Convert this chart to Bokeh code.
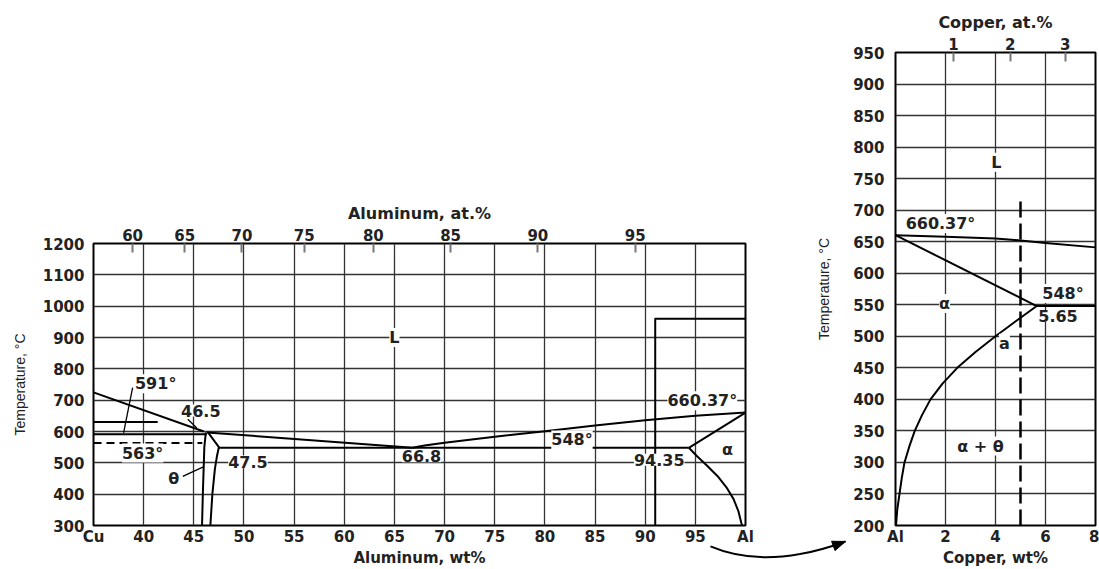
from bokeh.plotting import figure
from bokeh.models import (Range1d, FixedTicker, LinearAxis, LabelSet, ColumnDataSource)
from bokeh.layouts import row, column
from bokeh.embed import file_html
from bokeh.resources import INLINE
from bokeh.core.properties import value

# ---------------- Left panel data (Cu-Al, wt% Al) ----------------
wt_ticks = [35, 40, 45, 50, 55, 60, 65, 70, 75, 80, 85, 90, 95, 100]
wt_tick_labels = ["Cu", "40", "45", "50", "55", "60", "65", "70", "75", "80", "85", "90", "95", "Al"]
at_tick_pos = [38.9, 44.1, 49.8, 56.0, 62.9, 70.6, 79.3, 89.0]
at_tick_labels = ["60", "65", "70", "75", "80", "85", "90", "95"]
temp_ticks_left = [300, 400, 500, 600, 700, 800, 900, 1000, 1100, 1200]

liq_cu_x = [35, 46.0]
liq_cu_t = [725, 600]
upper_x = [35, 41.4]
upper_t = [630, 630]
line591_x = [35, 46.3]
line591_t = [591, 591]
dash563_x = [35, 45.85]
dash563_t = [563, 563]
theta_left_x = [46.2, 46.05, 46.0, 45.9, 45.82]
theta_left_t = [597, 550, 500, 400, 300]
theta_right_x = [46.4, 47.5, 47.3, 47.1, 46.85, 46.65]
theta_right_t = [598, 550, 520, 480, 400, 300]
liq_mid_x = [46.3, 66.8]
liq_mid_t = [597, 548]
liq_al_x = [66.8, 68, 70, 75, 80, 85, 90, 95, 100]
liq_al_t = [548, 555, 564, 583, 601, 619, 636, 650, 660.37]
eut_x = [47.5, 94.35]
eut_t = [548, 548]
sol_al_x = [94.35, 100]
sol_al_t = [548, 660.37]
solvus_al_x = [94.35, 95.2, 96.2, 97.2, 98.1, 98.8, 99.3, 99.65]
solvus_al_t = [548, 520, 490, 458, 422, 385, 345, 300]
box_x = [91, 91, 100]
box_t = [300, 960, 960]

left_lab_text = ["L", "591°", "46.5", "563°", "47.5", "θ", "66.8", "548°", "94.35", "660.37°", "α"]
left_lab_x = [65, 41.2, 45.7, 39.9, 50.4, 43.0, 67.7, 82.7, 91.4, 95.7, 98.2]
left_lab_t = [900, 752, 667, 531, 504, 451, 521, 573, 510, 698, 544]

lead591_x = [38.9, 38.0]
lead591_t = [740, 596]
lead465_x = [44.4, 45.3]
lead465_t = [639, 611]
leadth_x = [43.9, 45.95]
leadth_t = [457, 487]

# ---------------- Right panel data (Al-rich, wt% Cu) ----------------
cu_ticks = [0, 2, 4, 6, 8]
cu_tick_labels = ["Al", "2", "4", "6", "8"]
cu_at_pos = [2.32, 4.59, 6.79]
cu_at_labels = ["1", "2", "3"]
temp_ticks_right = [200, 250, 300, 350, 400, 450, 500, 550, 600, 650, 700, 750, 800, 850, 900, 950]

r_liq_x = [0, 2, 4, 5, 6, 8]
r_liq_t = [660.37, 658, 655, 652, 648, 641]
r_sol_x = [0, 5.65]
r_sol_t = [660.37, 548]
r_eut_x = [5.65, 8]
r_eut_t = [548, 548]
r_solvus_x = [5.65, 4.85, 4.0, 3.2, 2.47, 1.88, 1.4, 1.06, 0.77, 0.55, 0.36, 0.25, 0.16, 0.07, 0.02]
r_solvus_t = [548, 525, 500, 475, 450, 425, 400, 375, 350, 325, 300, 275, 250, 225, 200]
r_dash_x = [5, 5]
r_dash_t = [200, 715]

right_lab_text = ["L", "660.37°", "548°", "5.65", "α", "a", "α + θ"]
right_lab_x = [4.03, 1.8, 6.7, 6.5, 1.96, 4.36, 3.4]
right_lab_t = [776, 679, 568, 532, 552, 489, 326]

# connecting arrow (page pixels): start, control, end
arrow_px = [(710, 547), (766, 571), (845, 542)]

FONT = "DejaVu Sans"
TXT = "#222222"
GRID = "#333333"


def style_axis(ax, size="15px", title="16px"):
    ax.axis_line_color = None
    ax.major_label_text_font = FONT
    ax.major_label_text_font_size = size
    ax.major_label_text_font_style = "bold"
    ax.major_label_text_color = TXT
    ax.axis_label_text_font = FONT
    ax.axis_label_text_font_size = title
    ax.axis_label_text_font_style = "bold"
    ax.axis_label_text_color = TXT
    ax.major_tick_out = 0
    ax.major_tick_in = 0
    ax.minor_tick_out = 0
    ax.minor_tick_in = 0


def ylabel_style(ax, standoff):
    ax.axis_label_text_font = "Liberation Sans"
    ax.axis_label_text_font_style = "normal"
    ax.axis_label_text_font_size = "14px"
    ax.axis_label_standoff = standoff


def labels(p, texts, xs, ts):
    src = ColumnDataSource(dict(x=xs, y=ts, text=texts))
    ls = LabelSet(x="x", y="y", text="text", source=src, text_align="center",
                  text_baseline="middle", text_font=value(FONT), text_font_size=value("16px"),
                  text_font_style=value("bold"), text_color=value(TXT),
                  background_fill_color=value("white"))
    p.add_layout(ls)


# ================= Left figure =================
L_W, H = 800, 569
p1 = figure(width=L_W, height=H, output_backend="svg", toolbar_location=None,
            x_range=Range1d(35, 100), y_range=Range1d(300, 1200),
            min_border_left=93, min_border_right=55, min_border_top=243,
            min_border_bottom=43, x_axis_label="Aluminum, wt%",
            y_axis_label="Temperature, °C")
p1.outline_line_color = "black"
p1.outline_line_width = 2
p1.background_fill_color = "white"
p1.border_fill_color = "white"

p1.xaxis.ticker = FixedTicker(ticks=wt_ticks)
p1.xaxis.major_label_overrides = {t: l for t, l in zip(wt_ticks, wt_tick_labels)}
p1.yaxis.ticker = FixedTicker(ticks=temp_ticks_left)
for ax in p1.yaxis:
    style_axis(ax)
for ax in p1.xaxis:
    style_axis(ax, title="15px")
p1.xaxis.major_label_standoff = 2
p1.xaxis.axis_label_standoff = 0
p1.yaxis.major_label_standoff = 9
ylabel_style(p1.yaxis[0], 12)

top1 = LinearAxis(ticker=FixedTicker(ticks=at_tick_pos),
                  major_label_overrides={t: l for t, l in zip(at_tick_pos, at_tick_labels)},
                  axis_label="Aluminum, at.%")
style_axis(top1)
top1.major_tick_in = 9
top1.major_tick_line_color = "#777777"
top1.major_tick_line_width = 2
top1.major_label_standoff = 3
top1.axis_label_standoff = 3
p1.add_layout(top1, "above")

for g in p1.xgrid + p1.ygrid:
    g.grid_line_color = GRID
    g.grid_line_width = 1.3
    g.grid_line_alpha = 1.0

for xs, ts in [(liq_cu_x, liq_cu_t), (upper_x, upper_t), (line591_x, line591_t),
               (theta_left_x, theta_left_t), (theta_right_x, theta_right_t),
               (liq_mid_x, liq_mid_t), (liq_al_x, liq_al_t), (eut_x, eut_t),
               (sol_al_x, sol_al_t), (solvus_al_x, solvus_al_t), (box_x, box_t)]:
    p1.line(xs, ts, line_color="black", line_width=2, line_join="round")
p1.line(dash563_x, dash563_t, line_color="black", line_width=2, line_dash="8 5")
for xs, ts in [(lead591_x, lead591_t), (lead465_x, lead465_t), (leadth_x, leadth_t)]:
    p1.line(xs, ts, line_color="black", line_width=1.3)
labels(p1, left_lab_text, left_lab_x, left_lab_t)

# ================= Right figure =================
R_W = 299
p2 = figure(width=R_W, height=H, output_backend="svg", toolbar_location=None,
            x_range=Range1d(0, 8), y_range=Range1d(200, 950),
            min_border_left=95, min_border_right=4, min_border_top=52,
            min_border_bottom=43, x_axis_label="Copper, wt%",
            y_axis_label="Temperature, °C")
p2.outline_line_color = "black"
p2.outline_line_width = 2
p2.border_fill_color = "white"

p2.xaxis.ticker = FixedTicker(ticks=cu_ticks)
p2.xaxis.major_label_overrides = {t: l for t, l in zip(cu_ticks, cu_tick_labels)}
p2.yaxis.ticker = FixedTicker(ticks=temp_ticks_right)
for ax in p2.yaxis:
    style_axis(ax)
for ax in p2.xaxis:
    style_axis(ax, title="15px")
p2.xaxis.major_label_standoff = 2
p2.xaxis.axis_label_standoff = 0
p2.yaxis.major_label_standoff = 11
ylabel_style(p2.yaxis[0], 18)

top2 = LinearAxis(ticker=FixedTicker(ticks=cu_at_pos),
                  major_label_overrides={t: l for t, l in zip(cu_at_pos, cu_at_labels)},
                  axis_label="Copper, at.%")
style_axis(top2)
top2.major_tick_in = 9
top2.major_tick_line_color = "#777777"
top2.major_tick_line_width = 2
top2.major_label_standoff = 3
top2.axis_label_standoff = 3
p2.add_layout(top2, "above")

for g in p2.xgrid + p2.ygrid:
    g.grid_line_color = GRID
    g.grid_line_width = 1.3

for xs, ts in [(r_liq_x, r_liq_t), (r_sol_x, r_sol_t), (r_eut_x, r_eut_t),
               (r_solvus_x, r_solvus_t)]:
    p2.line(xs, ts, line_color="black", line_width=2, line_join="round")
p2.line(r_dash_x, r_dash_t, line_color="black", line_width=2.5, line_dash="16 6")
labels(p2, right_lab_text, right_lab_x, right_lab_t)


# ================= Connecting arrow =================
def px_to_left(px, py):
    return 35 + (px - 93) * 65 / 652, 1200 - (py - 243) * 900 / 283


def px_to_right(px, py):
    return (px - (L_W + 95)) * 8 / 200, 950 - (py - 52) * 750 / 474


for p, conv in [(p1, px_to_left), (p2, px_to_right)]:
    (x0, y0), (cx, cy), (x1, y1) = [conv(a, b) for a, b in arrow_px]
    p.quadratic(x0=[x0], y0=[y0], cx=[cx], cy=[cy], x1=[x1], y1=[y1],
                line_color="black", line_width=2, level="overlay")

# arrow head (triangle) at the end of the curve
tip = arrow_px[2]
dx, dy = tip[0] - arrow_px[1][0], tip[1] - arrow_px[1][1]
nrm = (dx * dx + dy * dy) ** 0.5
ux, uy = dx / nrm, dy / nrm
bx, by = tip[0] - 13 * ux, tip[1] - 13 * uy
head_px = [tip, (bx - 5 * uy, by + 5 * ux), (bx + 5 * uy, by - 5 * ux)]
head = [px_to_right(a, b) for a, b in head_px]
p2.patch([h[0] for h in head], [h[1] for h in head], fill_color="black",
         line_color="black", level="overlay")

layout = row(p1, column(p2))
open("out.html", "w").write(file_html(layout, INLINE))
